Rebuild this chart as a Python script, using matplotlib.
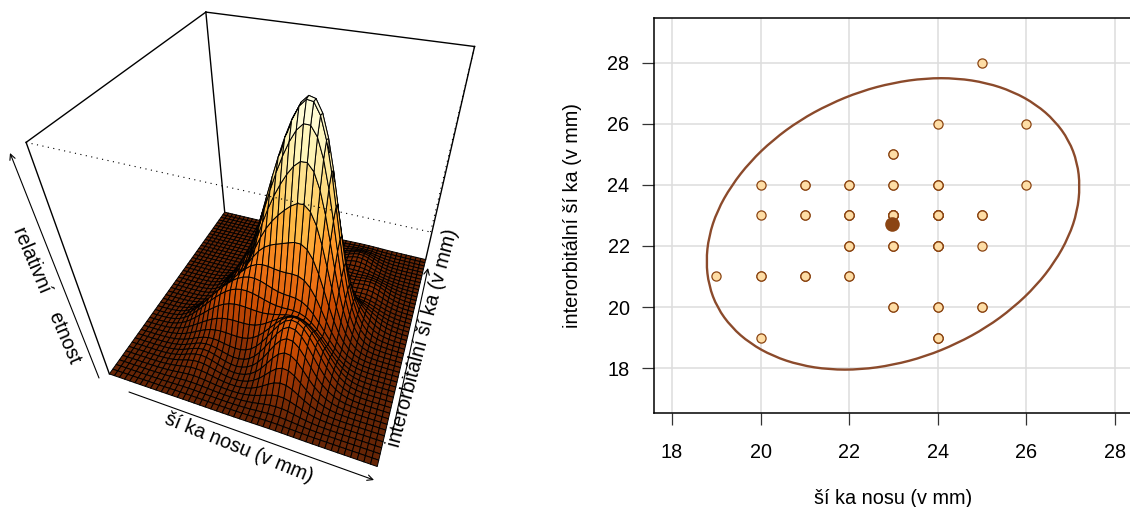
import numpy as np
import matplotlib
matplotlib.use('Agg')
import matplotlib.pyplot as plt
from matplotlib.colors import LinearSegmentedColormap
from matplotlib.patches import PathPatch
from matplotlib.path import Path

plt.rcParams['font.family'] = ['Liberation Sans']

# points, n = estimated overplotting count
pt_x = [25, 24, 26, 23, 20, 21, 22, 23, 24, 26, 20, 21, 22, 23, 24, 25, 22, 23, 24, 25, 19, 20, 21, 22, 23, 24, 25, 20, 24]
pt_y = [28, 26, 26, 25, 24, 24, 24, 24, 24, 24, 23, 23, 23, 23, 23, 23, 22, 22, 22, 22, 21, 21, 21, 21, 20, 20, 20, 19, 19]
pt_n = [1, 1, 1, 2, 1, 2, 2, 2, 3, 1, 1, 2, 4, 7, 7, 3, 3, 3, 5, 1, 1, 2, 3, 2, 2, 2, 2, 1, 3]
mean_xy = (22.96, 22.71)
# ellipse outline, from its extremes
ell_x = [27.21, 27.15, 26.96, 26.64, 26.22, 25.70, 25.10, 24.43, 23.72, 22.99, 22.26, 21.55, 20.88, 20.28, 19.76, 19.34, 19.02, 18.83,
         18.77, 18.83, 19.02, 19.34, 19.76, 20.28, 20.88, 21.55, 22.26, 22.99, 23.72, 24.43, 25.10, 25.70, 26.22, 26.64, 26.96, 27.15]
ell_y = [23.95, 24.73, 25.46, 26.10, 26.63, 27.05, 27.34, 27.49, 27.49, 27.34, 27.06, 26.64, 26.11, 25.47, 24.75, 23.97, 23.15, 22.31,
         21.49, 20.71, 19.98, 19.34, 18.81, 18.39, 18.10, 17.95, 17.95, 18.10, 18.38, 18.80, 19.33, 19.97, 20.69, 21.47, 22.30, 23.13]
ticks = [18, 20, 22, 24, 26, 28]

# limits and bandwidth of the density surface
xlo, xhi, ylo, yhi = 16.35, 28.35, 16.8, 29.8
hx, hy = 0.75, 0.75
n_cells = 46

W, H = 1130, 507
BROWN = '#8B4513'
fig = plt.figure(figsize=(W / 100, H / 100), dpi=100)


def p(x, y):
    # picture pixels to figure fraction
    return (x / W, 1 - y / H)


# left panel: the surface is a density estimate of the points above,
# not a table
ax = fig.add_axes([38.2 / W, 43.9 / H, 477.6 / W, 477.6 / H], projection='3d', computed_zorder=False)
ax.view_init(elev=39.699, azim=-69.704, roll=0.259)
ax.set_proj_type('persp', focal_length=0.2085)
ax.set_box_aspect((0.9967, 1, 0.9884))
ax.set_xlim(xlo, xhi, view_margin=0)
ax.set_ylim(ylo, yhi, view_margin=0)
ax.set_zlim(0, 1, view_margin=0)
ax.set_axis_off()
ax.patch.set_alpha(0)

gx = np.linspace(xlo, xhi, n_cells + 1)
gy = np.linspace(ylo, yhi, n_cells + 1)
X, Y = np.meshgrid(gx, gy)
Z = sum(n * np.exp(-0.5 * ((X - a) / hx) ** 2 - 0.5 * ((Y - b) / hy) ** 2) for a, b, n in zip(pt_x, pt_y, pt_n))
Z = Z / Z.max()

cmap = LinearSegmentedColormap.from_list('ylorbr', ['#662506', '#993404', '#CC4C02', '#EC7014', '#FE9929', '#FEC44F', '#FEE391', '#FFF7BC', '#FFFFE5'])
zc = (Z[:-1, :-1] + Z[1:, :-1] + Z[:-1, 1:] + Z[1:, 1:]) / 4
surf = ax.plot_surface(X, Y, Z, rstride=1, cstride=1, facecolors=cmap(zc), edgecolor='black', linewidth=0.7, shade=False, zorder=2)
surf.set_clip_on(False)


def box_edge(a, b, **kw):
    line, = ax.plot([(xlo, xhi)[a[0]], (xlo, xhi)[b[0]]], [(ylo, yhi)[a[1]], (ylo, yhi)[b[1]]], [a[2], b[2]], color='black', **kw)
    line.set_clip_on(False)


for a, b in [((0, 0, 1), (0, 0, 0)), ((0, 0, 1), (0, 1, 1)), ((0, 1, 1), (1, 1, 1)), ((1, 1, 1), (1, 1, 0)), ((0, 1, 1), (0, 1, 0))]:
    box_edge(a, b, lw=1.0, zorder=1)
for a, b in [((0, 0, 1), (1, 0, 1)), ((1, 0, 1), (1, 1, 1))]:
    box_edge(a, b, lw=0.8, ls=(0, (1, 4)), zorder=3)

for a, b in [((129, 392), (374, 480)), ((99, 378), (10, 153)), ((392, 435), (428, 268))]:
    fig.add_artist(plt.Annotation('', xy=p(*b), xytext=p(*a), xycoords='figure fraction', textcoords='figure fraction',
                                  arrowprops=dict(arrowstyle='->', lw=0.8, color='black', shrinkA=0, shrinkB=0)))
fig.text(*p(239, 448), 'ší ka nosu (v mm)', rotation=-22, ha='center', va='center', fontsize=14.3)
fig.text(*p(47, 295), 'relativní    etnost', rotation=-67, ha='center', va='center', fontsize=14.3)
fig.text(*p(423, 338), 'interorbitální ší ka (v mm)', rotation=75, ha='center', va='center', fontsize=14.3)

# right panel
ax2 = fig.add_axes([654 / W, (H - 412.7) / H, (1132.7 - 654) / W, (412.7 - 17.7) / H])
ax2.set_xlim(17.594, 28.4)
ax2.set_ylim(16.54, 29.47)
ax2.set_xticks(ticks)
ax2.set_yticks(ticks)
ax2.grid(True, color='#DDDDDD', lw=1.1)
ax2.set_axisbelow(True)
ax2.tick_params(length=8.6, width=0.9, color='#333333', labelsize=14.3)
ax2.tick_params(axis='x', pad=13)
ax2.tick_params(axis='y', pad=9)
for sp in ax2.spines.values():
    sp.set_linewidth(1.1)

# round off the ellipse points with quadratic segments
ell = np.column_stack([ell_x, ell_y])
mids = (ell + np.roll(ell, -1, axis=0)) / 2
verts = [mids[-1]]
codes = [Path.MOVETO]
for i in range(len(ell)):
    verts += [ell[i], mids[i]]
    codes += [Path.CURVE3, Path.CURVE3]
ax2.add_patch(PathPatch(Path(verts, codes), fill=False, edgecolor='#8B4A2B', lw=1.7))

ax2.plot(np.repeat(pt_x, pt_n), np.repeat(pt_y, pt_n), 'o', ms=6.6, mfc='#FEDDA5', mec=BROWN, mew=0.9, ls='none')
ax2.plot(*mean_xy, 'o', ms=10.5, color=BROWN, mec='none')
ax2.set_xlabel('ší ka nosu (v mm)', fontsize=14.3, labelpad=19.5)
ax2.set_ylabel('interorbitální ší ka (v mm)', fontsize=14.3, labelpad=18)

fig.savefig('out.png', dpi=100)
